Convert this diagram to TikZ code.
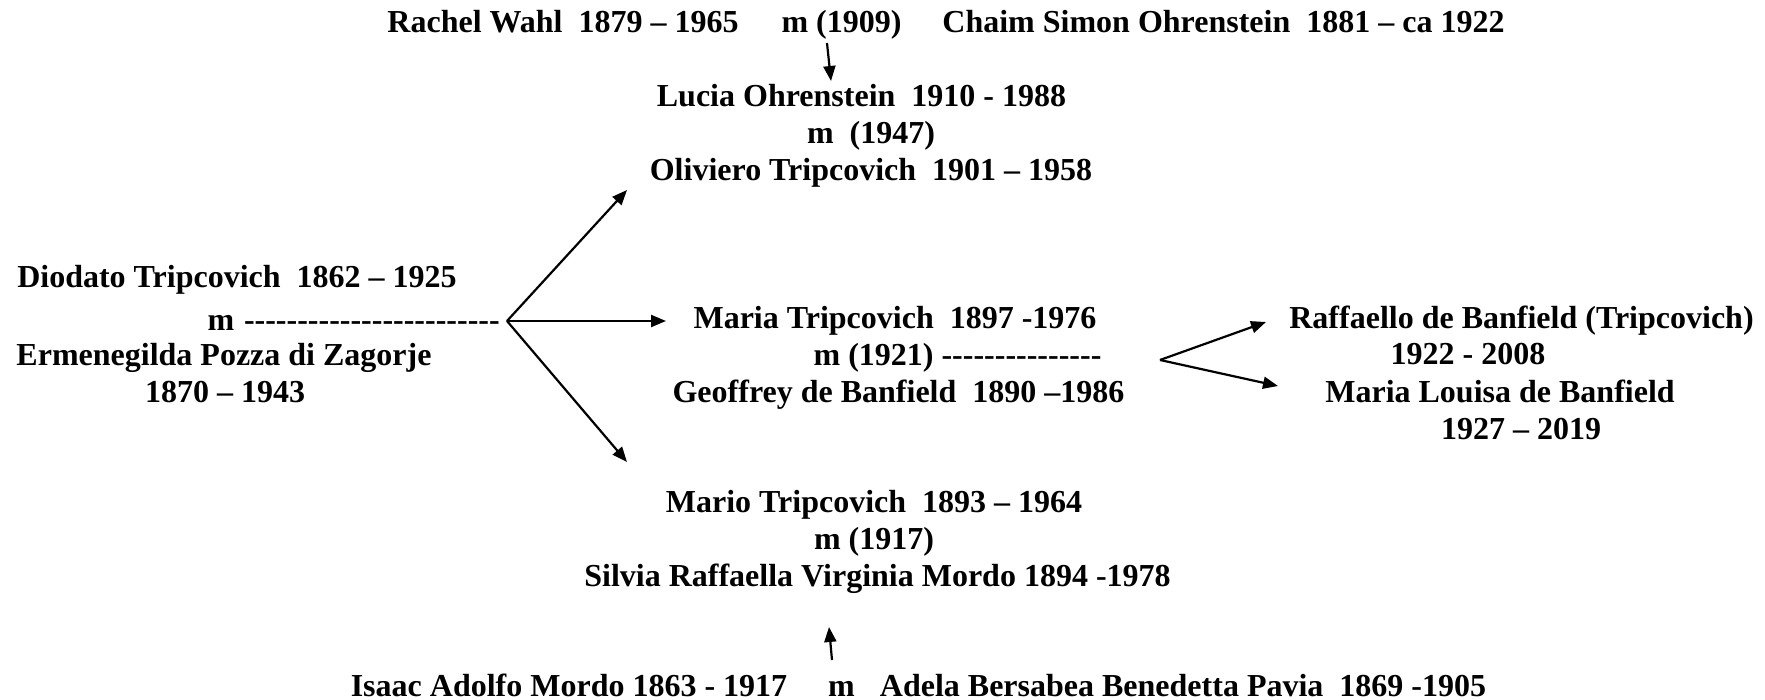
\documentclass[tikz,border=0pt]{standalone}
\usepackage{fontspec}
\setmainfont{Liberation Serif}
\usetikzlibrary{arrows.meta}
\newcommand\dsh{\mbox{-}}
\newcommand\dshs[1]{\foreach\k in {1,...,#1}{\dsh}}
\begin{document}
\begin{tikzpicture}[x=1pt,y=-1pt,
  txt/.style={inner sep=0pt,outer sep=0pt,anchor=base,font=\fontsize{32}{37}\selectfont\bfseries},
  arr/.style={line width=2.2pt,-{Triangle[length=15pt,width=12pt]}},
  lin/.style={line width=2.2pt}]
\fill[white] (0,0) rectangle (1765,700);
\useasboundingbox (0,0) rectangle (1765,700);
% top couple
\node[txt] (rachel) at (563,33) {Rachel Wahl~~1879 – 1965};
\node[txt] (m1909) at (841.5,33) {m (1909)};
\node[txt] (chaim) at (1223.5,33) {Chaim Simon Ohrenstein~~1881 – ca 1922};
% Lucia
\node[txt] (lucia) at (861.5,107) {Lucia Ohrenstein~~1910 - 1988};
\node[txt] (m1947) at (871,144) {m~~(1947)};
\node[txt] (oliviero) at (871,181) {Oliviero Tripcovich~~1901 – 1958};
% left couple
\node[txt] (diodato) at (237,288) {Diodato Tripcovich~~1862 – 1925};
\node[txt] (mleft) at (221,331) {m};
\node[txt,anchor=base west] (dashleft) at (244,331) {\dshs{24}};
\node[txt] (ermen) at (224,366) {Ermenegilda Pozza di Zagorje};
\node[txt] (d1870) at (225,403) {1870 – 1943};
% Maria
\node[txt] (maria) at (895,329) {Maria Tripcovich~~1897 -1976};
\node[txt] (m1921) at (957.5,366) {m (1921) \dshs{15}};
\node[txt] (geoffrey) at (898.5,403) {Geoffrey de Banfield~~1890 –1986};
% children of Maria
\node[txt] (raff) at (1521.5,329) {Raffaello de Banfield (Tripcovich)};
\node[txt] (r1922) at (1468,365) {1922 - 2008};
\node[txt] (mlouisa) at (1500,403) {Maria Louisa de Banfield};
\node[txt] (ml1927) at (1521,439) {1927 – 2019};
% Mario
\node[txt] (mario) at (874,512) {Mario Tripcovich~~1893 – 1964};
\node[txt] (m1917) at (874,549) {m (1917)};
\node[txt] (silvia) at (877.5,586) {Silvia Raffaella Virginia Mordo 1894 -1978};
% bottom couple
\node[txt] (isaac) at (569,696) {Isaac Adolfo Mordo 1863 - 1917};
\node[txt] (mbot) at (841.5,696) {m};
\node[txt] (adela) at (1183,696) {Adela Bersabea Benedetta Pavia~~1869 -1905};
% coordinates
\coordinate (topA) at (827,43);
\coordinate (topB) at (831,81);
\coordinate (bp1) at (507,321);
\coordinate (tUp) at (627,190);
\coordinate (tMid) at (666,321);
\coordinate (tDown) at (627,462);
\coordinate (bp2) at (1160,360);
\coordinate (tRaff) at (1266,322);
\coordinate (tLou) at (1278,386);
\coordinate (botA) at (832,660);
\coordinate (botB) at (829,627);
% connectors
\draw[arr] (topA) -- (topB);
\draw[arr] (bp1) -- (tUp);
\draw[arr] (bp1) -- (tMid);
\draw[arr] (bp1) -- (tDown);
\draw[arr] (bp2) -- (tRaff);
\draw[arr] (bp2) -- (tLou);
\draw[arr] (botA) -- (botB);
\end{tikzpicture}
\end{document}
